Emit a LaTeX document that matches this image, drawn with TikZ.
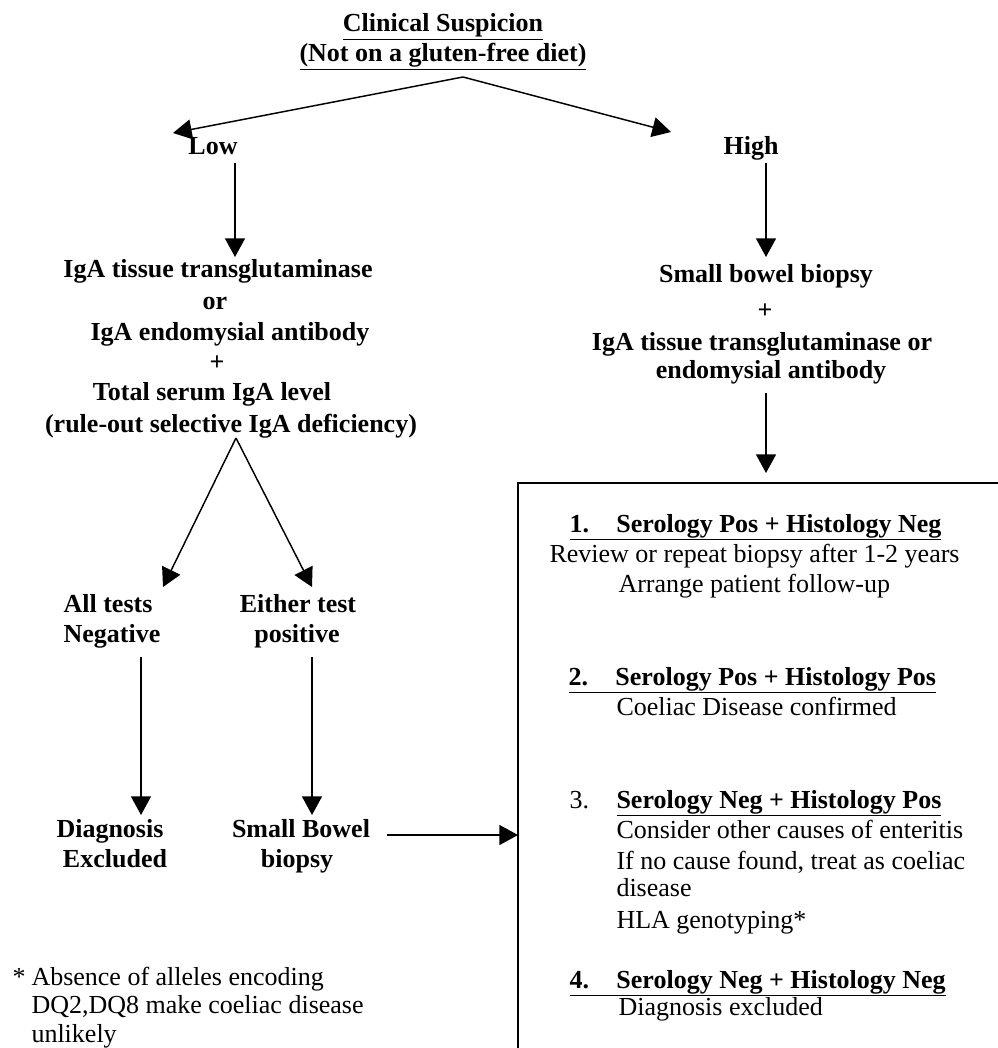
\documentclass[tikz,border=0pt]{standalone}
\usepackage{fontspec}
\setmainfont{Liberation Serif}
\usetikzlibrary{arrows.meta}
\tikzset{every picture/.style={line width=0.75pt}}
\tikzset{
  arr/.style={line width=1.1pt,-{Triangle[length=14pt,width=15pt]}},
  bt/.style={anchor=base,inner sep=0.75pt,font=\fontsize{19.5}{22.5}\selectfont\bfseries},
  ht/.style={anchor=base west,inner sep=0.75pt,font=\fontsize{19.5}{22.5}\selectfont\bfseries},
  rt/.style={anchor=base west,inner sep=0.75pt,font=\fontsize{19.5}{22.5}\selectfont}
}
\newcommand{\numhead}[2]{\underline{\makebox[35.25pt][l]{#1}#2}}

\begin{document}
\begin{tikzpicture}[x=0.75pt,y=0.75pt,yscale=-1,xscale=1]
\useasboundingbox (0,0) rectangle (998,1048);

%Coordinates for the arrow ends
\coordinate (apex) at (463,77);
\coordinate (lowtip) at (173,133);
\coordinate (hightip) at (671,132);
\coordinate (lowa) at (235,163);
\coordinate (lowb) at (235,257);
\coordinate (higha) at (766,163);
\coordinate (highb) at (766,257);
\coordinate (biopa) at (766,393);
\coordinate (biopb) at (766,473);
\coordinate (apex2) at (236,438);
\coordinate (negtip) at (163,587);
\coordinate (postip) at (312,587);
\coordinate (nega) at (141,657);
\coordinate (negb) at (141,815);
\coordinate (posa) at (312,657);
\coordinate (posb) at (312,815);
\coordinate (sbba) at (387,835);
\coordinate (sbbb) at (518,835);

% Text Node
\draw (443,32) node (clin) [bt] {\underline{Clinical Suspicion}};
% Text Node
\draw (443,62) node (gfd) [bt] {\underline{(Not on a gluten-free diet)}};
% Text Node
\draw (213,155) node (low) [bt] {Low};
% Text Node
\draw (751,155) node (high) [bt] {High};

% Text Node
\draw (218,278) node (ttg) [bt] {IgA tissue transglutaminase};
\draw (215,310) node (or) [bt] {or};
\draw (230,340) node (ema) [bt] {IgA endomysial antibody};
\draw (217,370) node (plusl) [bt] {+};
\draw (212,400) node (tot) [bt] {Total serum IgA level};
\draw (231,432) node (rule) [bt] {(rule-out selective IgA deficiency)};

% Text Node
\draw (766,283) node (sbb) [bt] {Small bowel biopsy};
\draw (765,318) node (plusr) [bt] {+};
\draw (762,350) node (ttgr) [bt] {IgA tissue transglutaminase or};
\draw (771,378) node (emar) [bt] {endomysial antibody};

% Text Node
\draw (108,612) node (allt) [bt] {All tests};
\draw (112,642) node (neg) [bt] {Negative};
\draw (298,612) node (eith) [bt] {Either test};
\draw (297,642) node (posi) [bt] {positive};
\draw (110,837) node (diag) [bt] {Diagnosis};
\draw (115,867) node (excl) [bt] {Excluded};
\draw (301,837) node (smb) [bt] {Small Bowel};
\draw (297,867) node (bio) [bt] {biopsy};

% Text Node
\draw (11,985) node (star) [rt] {*};
\draw (30,985) node (fna) [rt] {Absence of alleles encoding};
\draw (30,1013) node (fnb) [rt] {DQ2,DQ8 make coeliac disease};
\draw (30,1042) node (fnc) [rt] {unlikely};

%Result box (open to the right and below)
\draw [line width=1.3pt] (518,1048) -- (518,483) -- (998,483);

% Text Node
\draw (568,532) node (one) [ht] {\numhead{1.}{Serology Pos + Histology Neg}};
\draw (548,562) node (onea) [rt] {Review or repeat biopsy after 1-2 years};
\draw (617,592) node (oneb) [rt] {Arrange patient follow-up};
\draw (567,685) node (two) [ht] {\numhead{2.}{Serology Pos + Histology Pos}};
\draw (615,715) node (twoa) [rt] {Coeliac Disease confirmed};
\draw (568,808) node (three) [rt] {3.};
\draw (615,808) node (threeh) [ht] {\underline{Serology Neg + Histology Pos}};
\draw (615,838) node (threea) [rt] {Consider other causes of enteritis};
\draw (615,869) node (threeb) [rt] {If no cause found, treat as coeliac};
\draw (615,896) node (threec) [rt] {disease};
\draw (615,928) node (threed) [rt] {HLA genotyping*};
\draw (568,988) node (four) [ht] {\numhead{4.}{Serology Neg + Histology Neg}};
\draw (617,1015) node (foura) [rt] {Diagnosis excluded};

%Straight Lines
\draw [arr] (apex) -- (lowtip);
\draw [arr] (apex) -- (hightip);
\draw [arr] (lowa) -- (lowb);
\draw [arr] (higha) -- (highb);
\draw [arr] (biopa) -- (biopb);
\draw [arr] (apex2) -- (negtip);
\draw [arr] (apex2) -- (postip);
\draw [arr] (nega) -- (negb);
\draw [arr] (posa) -- (posb);
\draw [arr] (sbba) -- (sbbb);

\end{tikzpicture}
\end{document}
